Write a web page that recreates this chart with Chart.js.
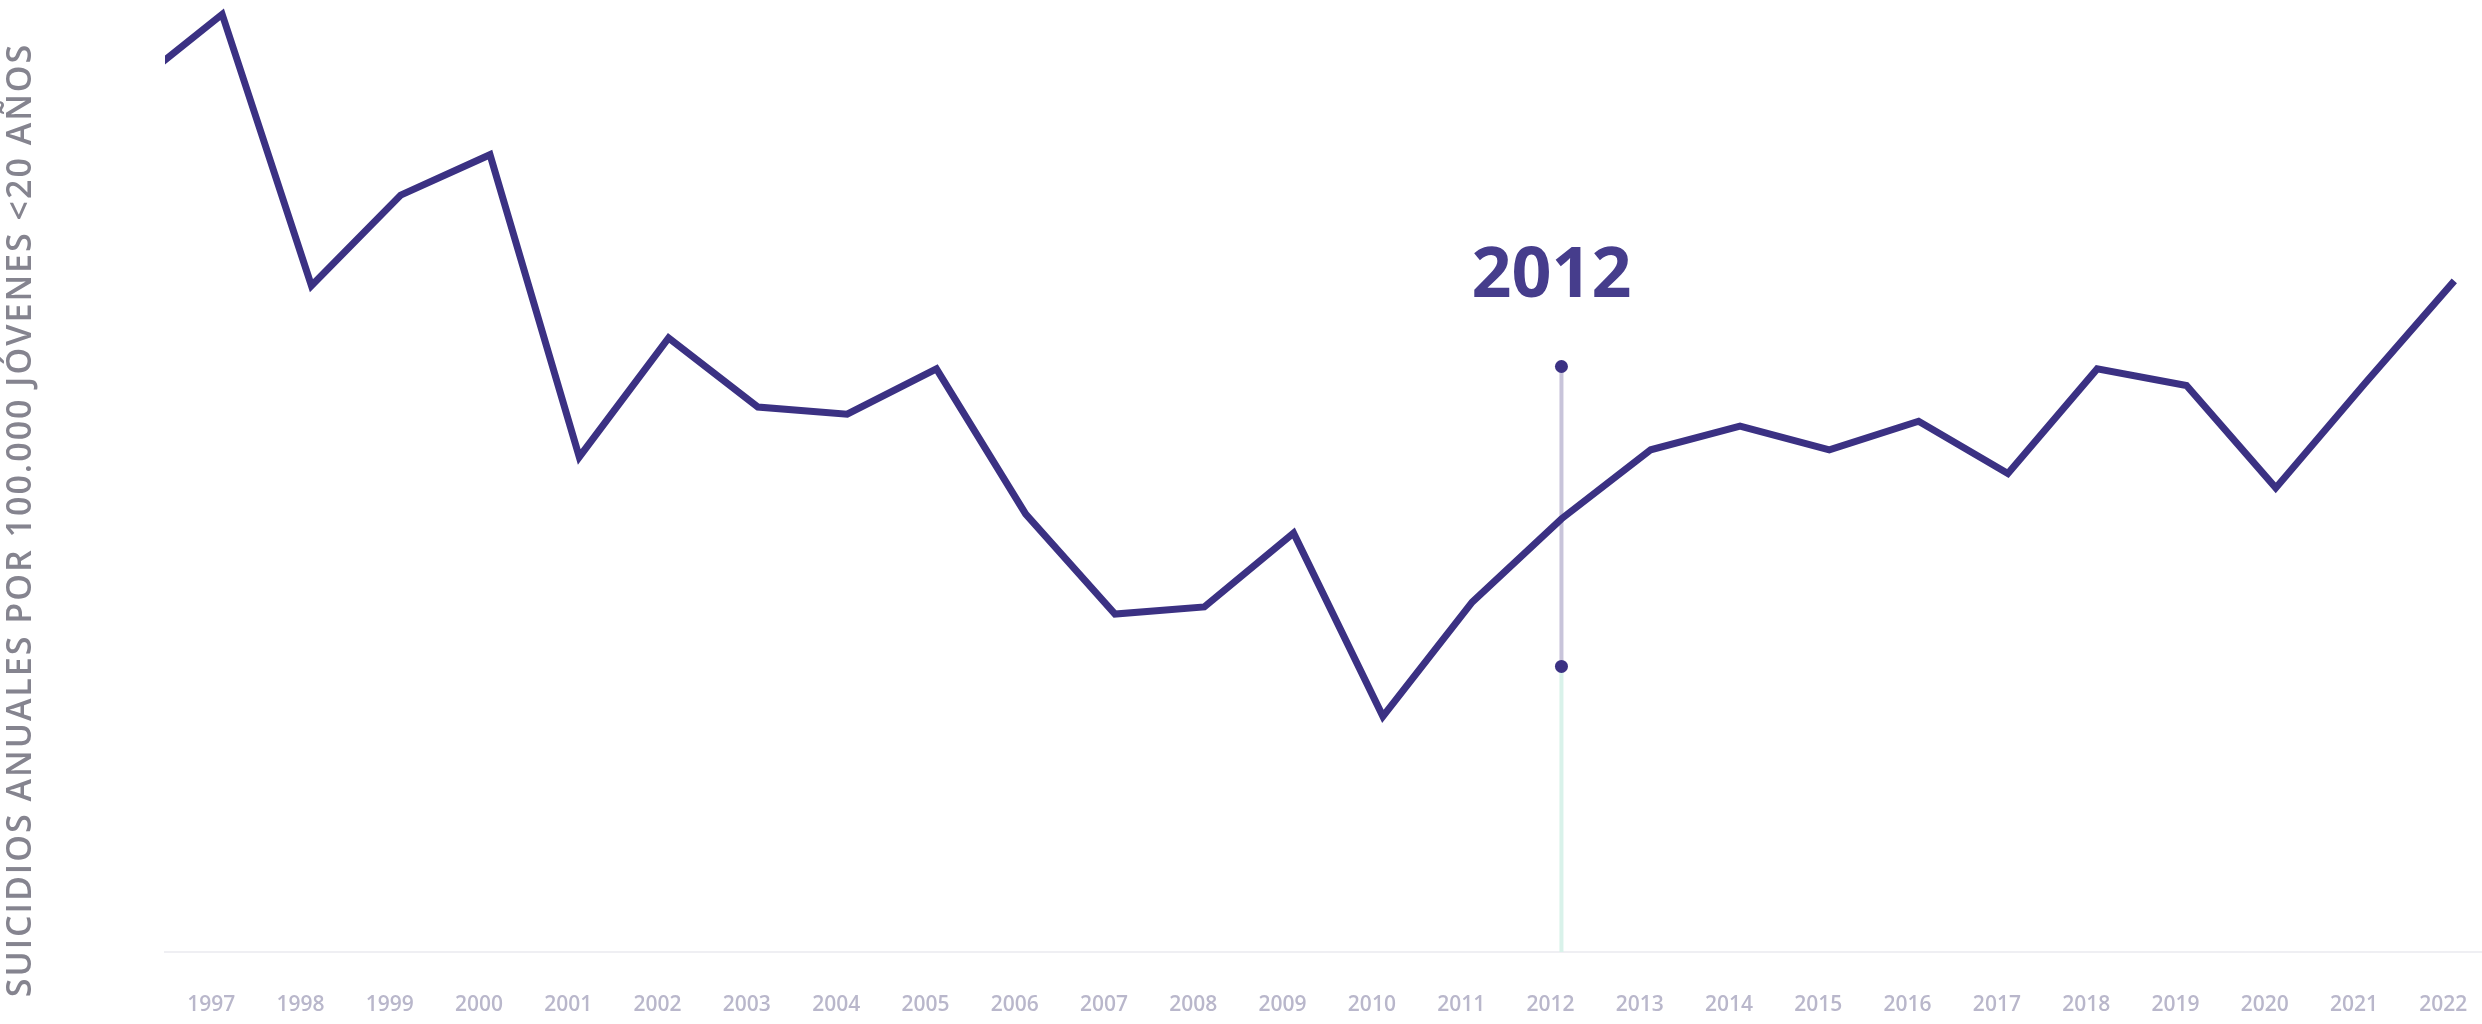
<!DOCTYPE html>
<html>
<head>
<meta charset="utf-8">
<script src="https://cdn.jsdelivr.net/npm/chart.js@4/dist/chart.umd.min.js"></script>
<style>
  html,body{margin:0;padding:0;background:#ffffff;}
  #wrap{width:2482px;height:1024px;position:relative;}
</style>
</head>
<body>
<div id="wrap"><canvas id="c" width="2482" height="1024"></canvas></div>
<script>
// Years (1996 only enters from the left edge, clipped by the axis range)
const years = [1996,1997,1998,1999,2000,2001,2002,2003,2004,2005,2006,2007,2008,2009,2010,2011,2012,2013,2014,2015,2016,2017,2018,2019,2020,2021,2022];
const rates = [3.64,3.94,2.80,3.18,3.35,2.08,2.58,2.29,2.26,2.45,1.84,1.42,1.45,1.76,0.99,1.47,1.82,2.11,2.21,2.11,2.23,2.01,2.45,2.38,1.95,2.39,2.82];
const tickYears = [1997,1998,1999,2000,2001,2002,2003,2004,2005,2006,2007,2008,2009,2010,2011,2012,2013,2014,2015,2016,2017,2018,2019,2020,2021,2022];
const markYear = 2012;
const markLabel = '2012';
const markRange = [1.20, 2.46];
const yTitle = 'SUICIDIOS ANUALES POR 100.000 JÓVENES <20 AÑOS';

const lineColor = '#3b3183';

const markPlugin = {
  id: 'mark',
  beforeDatasetsDraw(chart) {
    const {ctx, scales:{x, y}, chartArea} = chart;
    const px = x.getPixelForValue(markYear);
    const yLo = y.getPixelForValue(markRange[0]);
    const yHi = y.getPixelForValue(markRange[1]);
    ctx.save();
    ctx.strokeStyle = '#d9f2ea';
    ctx.lineWidth = 4;
    ctx.beginPath(); ctx.moveTo(px, yLo); ctx.lineTo(px, chartArea.bottom); ctx.stroke();
    ctx.strokeStyle = '#c8c4da';
    ctx.lineWidth = 4;
    ctx.beginPath(); ctx.moveTo(px, yHi); ctx.lineTo(px, yLo); ctx.stroke();
    ctx.fillStyle = lineColor;
    [yHi, yLo].forEach(py => { ctx.beginPath(); ctx.arc(px, py, 6.5, 0, Math.PI*2); ctx.fill(); });
    ctx.fillStyle = '#463d8c';
    ctx.font = 'bold 70px "Open Sans", "DejaVu Sans", sans-serif';
    ctx.textAlign = 'center';
    ctx.textBaseline = 'alphabetic';
    ctx.fillText(markLabel, px - 10, yHi - 70);
    ctx.restore();
  },
  afterDraw(chart) {
    const {ctx} = chart;
    ctx.save();
    ctx.translate(21, 520);
    ctx.rotate(-Math.PI / 2);
    ctx.fillStyle = '#85848f';
    ctx.font = '600 34px "Open Sans", sans-serif';
    ctx.textAlign = 'center';
    ctx.textBaseline = 'middle';
    if ('letterSpacing' in ctx) ctx.letterSpacing = '2px';
    ctx.fillText(yTitle, 0, 0, 985);
    ctx.restore();
  }
};

new Chart(document.getElementById('c'), {
  type: 'line',
  data: {
    datasets: [{
      data: years.map((yr, i) => ({x: yr, y: rates[i]})),
      borderColor: lineColor,
      borderWidth: 7,
      pointRadius: 0,
      tension: 0,
      borderJoinStyle: 'miter',
      fill: false,
      clip: {left: 0, top: 12, right: 12, bottom: 0}
    }]
  },
  options: {
    responsive: false,
    animation: false,
    events: [],
    layout: {padding: 0},
    plugins: {legend: {display: false}, tooltip: {enabled: false}},
    scales: {
      x: {
        type: 'linear',
        min: 1996.36,
        max: 2022.31,
        afterBuildTicks: (s) => { s.ticks = tickYears.map(v => ({value: v})); },
        afterFit: (s) => { s.height = 72; s.paddingLeft = 0; s.paddingRight = 0; },
        grid: {display: false},
        border: {display: true, color: '#efeff3', width: 2},
        ticks: {
          color: '#b9b7cb',
          font: {family: '"Open Sans", sans-serif', size: 21, weight: '600'},
          padding: 32,
          labelOffset: -11,
          maxRotation: 0,
          autoSkip: false,
          callback: (v) => String(v)
        }
      },
      y: {
        min: 0,
        max: 4,
        afterFit: (s) => { s.width = 165; s.paddingTop = 0; s.paddingBottom = 0; },
        grid: {display: false},
        border: {display: false},
        ticks: {display: false},
        title: {display: false}
      }
    }
  },
  plugins: [markPlugin]
});
</script>
</body>
</html>
